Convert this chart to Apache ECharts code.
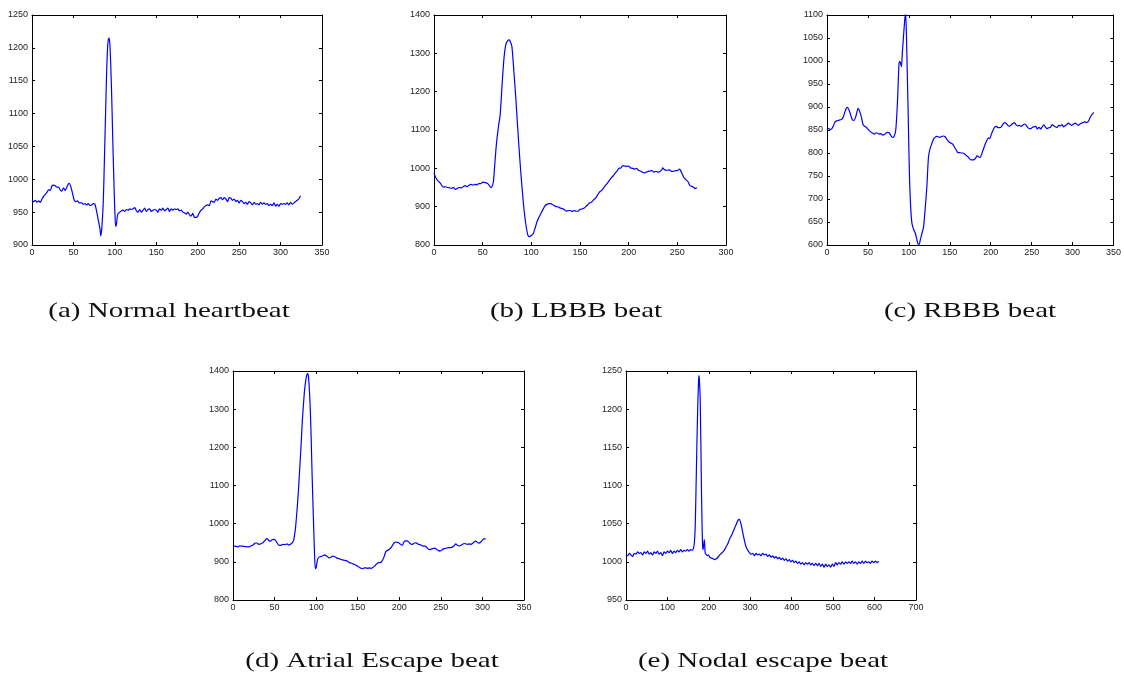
<!DOCTYPE html>
<html>
<head>
<meta charset="utf-8">
<script src="https://cdn.jsdelivr.net/npm/echarts@6/dist/echarts.min.js"></script>
<style>html,body{margin:0;padding:0;background:#fff}#c{width:1124px;height:675px}</style>
</head>
<body>
<div id="c"></div>
<script>
// ---- Data (sample index, amplitude) ----
const normalBeat = [[0,968],[2,966],[4,968],[6,965],[8,967],[10,965],[12,970],[14,974],[16,977],[18,980],[20,984],[22,983],[24,990],[26,991],[28,990],[30,988],[32,988],[34,984],[36,982],[38,987],[40,983],[42,988],[44,993],[45,994],[47,988],[49,978],[51,968],[53,966],[55,967],[57,964],[60,964],[62,962],[64,963],[66,961],[68,963],[70,960],[72,961],[74,963],[76,962],[78,951],[80,938],[82,925],[83,914],[84,922],[85,940],[86,965],[87,1010],[88,1060],[89,1110],[90,1160],[91,1195],[92,1212],[93,1215],[94,1205],[95,1175],[96,1135],[97,1085],[98,1035],[99,990],[100,950],[101,928],[102,932],[103,944],[104,948],[106,950],[108,952],[110,953],[112,951],[114,954],[116,953],[118,955],[120,954],[122,955],[124,957],[126,952],[128,950],[130,954],[132,950],[134,953],[136,956],[138,951],[140,954],[142,955],[144,951],[146,953],[148,954],[150,953],[152,950],[154,955],[156,953],[158,956],[160,952],[162,954],[164,956],[166,951],[168,955],[170,953],[172,955],[174,954],[176,955],[178,952],[180,953],[182,950],[184,949],[186,947],[188,950],[190,946],[192,944],[194,948],[196,942],[198,942],[200,944],[202,949],[204,953],[206,955],[208,958],[210,960],[212,961],[214,960],[216,967],[218,966],[220,965],[222,970],[224,968],[226,971],[228,972],[230,969],[232,972],[234,970],[236,966],[238,972],[240,971],[242,968],[244,970],[246,966],[248,968],[250,964],[252,968],[254,966],[256,963],[258,965],[260,962],[262,966],[264,964],[266,961],[268,965],[270,962],[272,963],[274,961],[276,965],[278,962],[280,964],[282,962],[284,963],[286,960],[288,962],[290,960],[292,964],[294,959],[296,962],[298,959],[300,963],[302,962],[304,963],[306,962],[308,964],[310,961],[312,965],[314,962],[316,964],[318,966],[320,968],[322,970],[324,975]];

const lbbbBeat = [[0,987],[2,975],[4,967],[6,963],[8,955],[10,951],[12,952],[14,950],[16,949],[18,948],[20,950],[22,945],[24,948],[26,950],[28,949],[30,952],[32,955],[34,952],[36,956],[38,958],[40,956],[42,958],[44,957],[46,960],[48,960],[50,964],[52,963],[54,962],[56,958],[58,951],[59,950],[60,955],[61,965],[62,995],[64,1060],[66,1105],[68,1140],[70,1220],[72,1290],[74,1325],[76,1334],[77,1335],[78,1333],[80,1318],[82,1255],[84,1185],[86,1105],[88,1030],[90,963],[92,905],[94,860],[96,830],[97,823],[98,822],[100,825],[102,830],[104,845],[106,862],[108,873],[110,883],[112,893],[114,902],[116,906],[118,908],[120,908],[122,905],[124,902],[126,900],[128,899],[130,896],[132,895],[134,892],[136,888],[138,890],[140,890],[142,887],[144,890],[146,888],[148,888],[150,893],[152,894],[154,896],[156,900],[158,905],[160,910],[162,912],[164,918],[166,922],[168,930],[170,938],[172,942],[174,948],[176,955],[178,961],[180,968],[182,975],[184,980],[186,987],[188,993],[190,1000],[192,1001],[194,1007],[196,1006],[198,1005],[200,1006],[202,1001],[204,1000],[206,998],[208,1000],[210,995],[212,993],[214,990],[216,988],[218,990],[220,992],[222,993],[224,994],[226,990],[228,992],[230,990],[232,992],[234,996],[235,1001],[237,996],[240,995],[242,996],[244,992],[246,992],[248,994],[250,994],[252,998],[253,996],[255,985],[257,975],[259,970],[261,965],[263,955],[265,953],[267,950],[268,947],[270,950]];

const rbbbBeat = [[0,854],[2,853],[4,851],[6,853],[8,860],[10,868],[12,870],[14,871],[16,872],[18,873],[20,879],[22,890],[24,898],[25,899],[27,893],[29,882],[31,872],[33,871],[35,878],[37,892],[38,897],[40,890],[42,878],[44,862],[46,858],[48,856],[50,852],[52,848],[54,845],[56,843],[58,841],[60,844],[62,843],[64,841],[66,842],[68,839],[70,840],[72,843],[74,845],[76,844],[78,838],[80,834],[82,836],[84,850],[86,908],[88,995],[89,999],[90,994],[91,988],[92,1017],[94,1067],[95,1090],[96,1106],[97,1060],[98,980],[99,900],[100,810],[101,735],[102,690],[103,660],[104,645],[106,633],[108,625],[110,610],[111,603],[112,601],[113,603],[114,611],[116,625],[118,640],[120,680],[122,727],[124,792],[126,810],[128,820],[130,830],[132,834],[134,836],[136,835],[138,834],[140,836],[142,837],[144,836],[146,831],[148,826],[150,823],[152,821],[154,818],[156,812],[158,806],[160,801],[162,801],[164,800],[166,800],[168,798],[170,795],[172,792],[174,788],[176,785],[178,785],[180,786],[182,790],[183,794],[185,792],[187,790],[189,798],[191,808],[193,818],[195,826],[197,833],[199,832],[201,842],[203,850],[205,857],[207,858],[209,855],[211,855],[213,857],[215,863],[217,866],[219,864],[221,860],[223,858],[225,861],[227,864],[229,866],[231,861],[233,859],[235,860],[237,858],[239,860],[241,863],[243,861],[245,856],[247,853],[249,853],[251,856],[253,857],[255,858],[257,852],[259,856],[261,852],[263,857],[265,861],[267,856],[269,853],[271,855],[273,856],[275,862],[277,859],[279,857],[281,855],[283,860],[285,859],[287,862],[289,857],[291,859],[293,862],[295,865],[297,862],[299,860],[301,863],[303,865],[305,863],[307,860],[309,863],[311,865],[313,866],[315,868],[317,866],[319,868],[321,875],[323,882],[325,886],[326,888]];

const atrialEscapeBeat = [[0,940],[2,941],[4,940],[6,939],[8,942],[10,941],[12,941],[14,940],[16,940],[18,939],[20,940],[22,942],[24,944],[26,948],[28,950],[30,947],[32,946],[34,948],[36,950],[38,955],[40,960],[41,961],[43,956],[45,954],[47,958],[49,959],[51,957],[53,950],[55,944],[57,943],[59,945],[61,946],[63,945],[65,947],[67,944],[69,946],[71,949],[73,957],[74,970],[75,985],[76,1009],[77,1035],[78,1065],[79,1097],[80,1135],[81,1172],[82,1210],[83,1255],[84,1290],[85,1320],[86,1348],[87,1367],[88,1382],[89,1391],[90,1393],[91,1380],[92,1345],[93,1297],[94,1225],[95,1140],[96,1065],[97,992],[98,925],[99,882],[100,885],[101,898],[102,908],[104,913],[106,914],[108,916],[110,918],[112,916],[114,913],[116,910],[118,912],[120,915],[122,914],[124,911],[126,909],[128,908],[130,906],[132,905],[134,904],[136,903],[138,901],[140,898],[142,897],[144,895],[146,893],[148,891],[150,888],[152,886],[154,883],[156,882],[158,884],[160,884],[162,883],[164,884],[166,883],[168,885],[170,888],[172,893],[174,897],[176,898],[178,899],[180,905],[182,915],[184,928],[186,930],[188,933],[190,937],[192,944],[194,950],[196,952],[198,951],[200,949],[202,945],[204,944],[205,950],[207,955],[209,955],[211,953],[213,948],[215,946],[217,947],[219,950],[221,949],[223,946],[225,945],[227,943],[229,941],[231,941],[233,938],[235,933],[237,932],[239,934],[241,935],[243,936],[245,932],[247,930],[249,928],[251,931],[253,934],[255,935],[257,936],[259,937],[261,937],[263,938],[265,940],[267,945],[268,947],[270,943],[272,942],[274,943],[276,946],[278,948],[280,947],[282,946],[284,947],[286,946],[288,948],[290,952],[292,954],[294,951],[296,949],[298,952],[300,957],[302,960],[304,960]];

const nodalEscapeBeat = [[0,1009],[4,1008],[8,1011],[12,1009],[16,1007],[20,1011],[24,1010],[28,1013],[32,1011],[36,1012],[40,1009],[44,1013],[48,1011],[52,1014],[56,1010],[60,1012],[64,1009],[68,1013],[72,1011],[76,1014],[80,1010],[84,1012],[88,1008],[92,1013],[96,1011],[100,1014],[104,1012],[108,1015],[112,1011],[116,1014],[120,1012],[124,1015],[128,1013],[132,1016],[136,1013],[140,1015],[144,1014],[148,1016],[152,1014],[156,1016],[160,1015],[163,1018],[165,1025],[167,1045],[169,1095],[171,1150],[173,1200],[175,1235],[176,1244],[177,1240],[179,1215],[180,1180],[181,1145],[182,1100],[183,1065],[184,1038],[185,1020],[186,1016],[188,1024],[189,1029],[190,1022],[191,1012],[193,1010],[196,1008],[199,1009],[202,1006],[206,1005],[210,1004],[214,1003],[218,1004],[222,1006],[226,1009],[230,1011],[234,1013],[238,1016],[242,1020],[246,1024],[250,1030],[254,1034],[258,1039],[262,1044],[266,1049],[270,1054],[273,1056],[276,1053],[279,1046],[282,1038],[285,1030],[288,1023],[291,1018],[294,1015],[298,1012],[302,1010],[306,1011],[310,1008],[314,1011],[318,1009],[322,1010],[326,1008],[330,1011],[334,1009],[338,1010],[342,1007],[346,1009],[350,1006],[354,1008],[358,1005],[362,1007],[366,1004],[370,1006],[374,1003],[378,1005],[382,1002],[386,1004],[390,1001],[394,1003],[398,1000],[402,1002],[406,999],[410,1001],[414,998],[418,1000],[422,997],[426,999],[430,996],[434,999],[438,997],[442,999],[446,996],[450,998],[454,995],[458,998],[462,995],[466,998],[470,994],[474,997],[478,993],[482,997],[486,994],[490,996],[494,993],[498,997],[502,994],[506,999],[510,996],[514,999],[518,997],[522,1000],[526,997],[530,1000],[534,998],[538,1000],[542,998],[546,1001],[550,998],[554,1000],[558,997],[562,1000],[566,998],[570,1001],[574,998],[578,1001],[582,999],[586,1000],[590,998],[594,1001],[598,999],[602,1001],[606,999],[610,1001]];

const captions = ['(a) Normal heartbeat', '(b) LBBB beat', '(c) RBBB beat', '(d) Atrial Escape beat', '(e) Nodal escape beat'];
const seriesData = [normalBeat, lbbbBeat, rbbbBeat, atrialEscapeBeat, nodalEscapeBeat];
// axis ranges: [min, max, step]
const xRanges = [[0,350,50],[0,300,50],[0,350,50],[0,350,50],[0,700,100]];
const yRanges = [[900,1250,50],[800,1400,100],[600,1100,50],[800,1400,100],[950,1250,50]];

// ---- Layout ----
const grids = [
  {left:32, top:15, width:290, height:230},
  {left:434, top:15, width:292, height:230},
  {left:827, top:15, width:291, height:230},
  {left:233, top:371, width:291, height:229},
  {left:626, top:371, width:290, height:229}
];
const captionPos = [[169,311],[576,311],[970,311],[372,661],[763,661]];

const lineCol = '#000';
const labelStyle = {fontFamily:'Liberation Sans, Arial, sans-serif', fontSize:9, color:'#222',
  formatter: v => String(v)};
const xAxes = [], yAxes = [], series = [];
grids.forEach((g, i) => {
  const [x0,x1,xs] = xRanges[i];
  const [y0,y1,ys] = yRanges[i];
  const common = {type:'value', gridIndex:i, splitLine:{show:false},
    axisLine:{show:true, onZero:false, lineStyle:{color:lineCol, width:1}},
    axisTick:{show:true, inside:true, length:3, lineStyle:{color:lineCol, width:1}}};
  xAxes.push(Object.assign({}, common, {position:'bottom', min:x0, max:x1, interval:xs,
    axisLabel:Object.assign({margin:3}, labelStyle)}));
  xAxes.push(Object.assign({}, common, {position:'top', min:x0, max:x1, interval:xs, axisLabel:{show:false}}));
  yAxes.push(Object.assign({}, common, {position:'left', min:y0, max:y1, interval:ys,
    axisLabel:Object.assign({margin:4}, labelStyle)}));
  yAxes.push(Object.assign({}, common, {position:'right', min:y0, max:y1, interval:ys, axisLabel:{show:false}}));
  series.push({type:'line', xAxisIndex:2*i, yAxisIndex:2*i, data:seriesData[i],
    showSymbol:false, smooth:0.25, clip:true, animation:false,
    lineStyle:{color:'#0000ff', width:1.2}});
});

const graphics = captions.map((t, i) => ({
  type:'text', x:captionPos[i][0], y:captionPos[i][1], scaleX:1.38,
  style:{text:t, font:'21px "Liberation Serif", "Times New Roman", serif', fill:'#111',
    textAlign:'center', textVerticalAlign:'middle'}
}));

const chart = echarts.init(document.getElementById('c'), null, {renderer:'canvas'});
chart.setOption({
  animation:false,
  backgroundColor:'#fff',
  grid: grids.map(g => Object.assign({containLabel:false}, g)),
  xAxis: xAxes,
  yAxis: yAxes,
  series: series,
  graphic: graphics
});
</script>
</body>
</html>
